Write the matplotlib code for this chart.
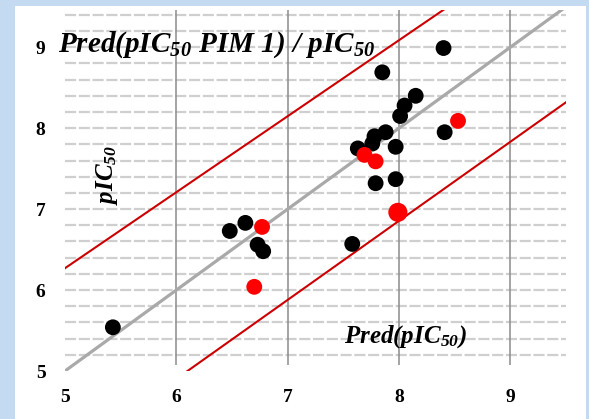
import matplotlib.pyplot as plt
import numpy as np
from matplotlib.patches import Rectangle

plt.rcParams['mathtext.fontset'] = 'custom'
plt.rcParams['mathtext.rm'] = 'Liberation Serif:italic:bold'
plt.rcParams['mathtext.it'] = 'Liberation Serif:italic:bold'

# observed vs predicted pIC50
black_x = [5.43, 6.48, 6.62, 6.73, 6.78, 7.58, 7.63, 7.76, 7.78, 7.79, 7.85,
           7.88, 7.97, 7.97, 8.01, 8.05, 8.15, 8.40, 8.41]
black_y = [5.54, 6.73, 6.83, 6.56, 6.48, 6.57, 7.75, 7.81, 7.90, 7.32, 8.69,
           7.95, 7.77, 7.37, 8.15, 8.28, 8.40, 8.99, 7.95]
red_x = [6.70, 6.77, 7.69, 7.79, 7.99, 8.53]
red_y = [6.04, 6.78, 7.67, 7.59, 6.96, 8.09]
red_s = [130, 130, 130, 130, 190, 130]

ident = [5, 9.5]
upper_x = [5, 8.44]
upper_y = [6.27, 9.5]
lower_x = [6.08, 9.5]
lower_y = [4.98, 8.32]

ticks = [5, 6, 7, 8, 9]

fig = plt.figure(figsize=(5.89, 4.19), dpi=100)
fig.patch.set_facecolor('#c3daf0')
fig.patches.append(Rectangle((15 / 589, 0), 571 / 589, 413 / 419,
                             transform=fig.transFigure, facecolor='white',
                             edgecolor='none', zorder=-5))

ax = fig.add_axes([65 / 589, 48 / 419, 501 / 589, 361 / 419])
ax.set_facecolor('none')
ax.set_xlim(5, 9.5)
ax.set_ylim(5, 9.46)

# grid
for yy in np.arange(5.2, 9.41, 0.2):
    ax.plot([5, 9.5], [yy, yy], color='#cfcfcf', lw=1.6, dashes=(5, 1.2), zorder=1)
ax.vlines([6, 7, 8, 9], 5.08, 9.5, color='#8c8c8c', lw=1.1, zorder=1)

ax.plot(ident, ident, color='#a9a9a9', lw=2.3, zorder=2)
ax.plot(upper_x, upper_y, color='#cc0000', lw=1.5, zorder=2)
ax.plot(lower_x, lower_y, color='#cc0000', lw=1.5, zorder=2)

ax.scatter(black_x, black_y, s=130, color='black', zorder=3, edgecolors='none')
ax.scatter(red_x, red_y, s=red_s, color='#ff0000', zorder=4, edgecolors='none')

for s in ax.spines.values():
    s.set_visible(False)
ax.set_xticks(ticks)
ax.set_yticks(ticks)
ax.tick_params(axis='x', length=0, pad=13)
ax.tick_params(axis='y', length=0, pad=14)
for lab in ax.get_xticklabels() + ax.get_yticklabels():
    lab.set_fontfamily('Liberation Serif')
    lab.set_fontweight('bold')
    lab.set_fontsize(14)

tfont = dict(family='Liberation Serif', weight='bold', style='italic')
fig.text(58 / 589, 1 - 45 / 419, r'Pred(pIC$_{50}$ PIM 1) / pIC$_{50}$',
         fontsize=21, va='center', ha='left', **tfont)
fig.text(107 / 589, 1 - 175 / 419, r'pIC$_{50}$', fontsize=18, rotation=90,
         va='center', ha='center', **tfont)
fig.text(405 / 589, 1 - 337 / 419, r'Pred(pIC$_{50}$)', fontsize=18,
         va='center', ha='center', **tfont)

fig.savefig('out.png', dpi=100)
